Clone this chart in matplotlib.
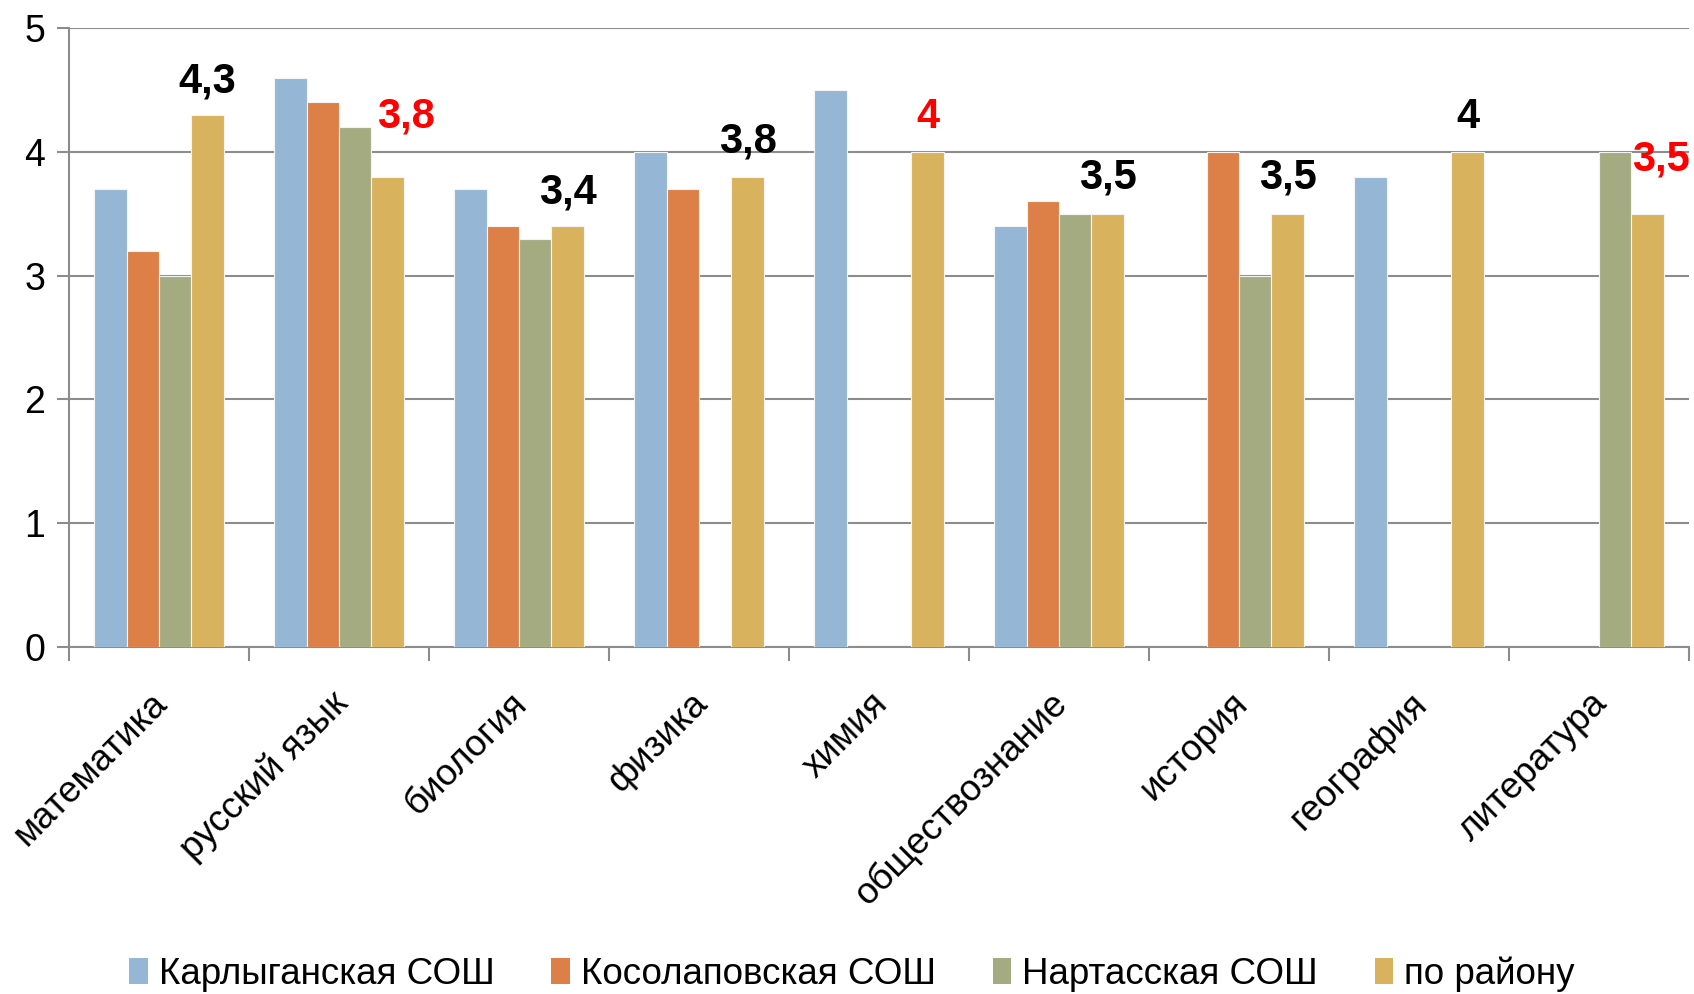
import numpy as np
import matplotlib.pyplot as plt
import matplotlib.transforms as mtransforms
from matplotlib.patches import Rectangle

plt.rcParams['font.family'] = ['Liberation Sans', 'DejaVu Sans']

subjects = ['математика', 'русский язык', 'биология', 'физика', 'химия',
            'обществознание', 'история', 'география', 'литература']
series_names = ['Карлыганская СОШ', 'Косолаповская СОШ', 'Нартасская СОШ', 'по району']
karl = [3.7, 4.6, 3.7, 4.0, 4.5, 3.4, np.nan, 3.8, np.nan]
kosol = [3.2, 4.4, 3.4, 3.7, np.nan, 3.6, 4.0, np.nan, np.nan]
nart = [3.0, 4.2, 3.3, np.nan, np.nan, 3.5, 3.0, np.nan, 4.0]
rayon = [4.3, 3.8, 3.4, 3.8, 4.0, 3.5, 3.5, 4.0, 3.5]
rayon_labels = ['4,3', '3,8', '3,4', '3,8', '4', '3,5', '3,5', '4', '3,5']
label_red = [False, True, False, False, True, False, False, False, True]

colors = ['#95B6D4', '#DD8048', '#A5AB80', '#D8B25D']
# label offsets in pixels (dx, dy) from top of the "по району" bar
label_offsets = [(0, 33), (18, 60), (0, 34), (0, 35), (0, 35),
                 (0, 36), (0, 36), (0, 35), (13, 54)]

fig = plt.figure(figsize=(16.94, 9.94), dpi=100)
ax = fig.add_axes([0.0407, 0.349, 0.9563, 0.6228])

x = np.arange(len(subjects))
w = 0.18
for i, vals in enumerate([karl, kosol, nart, rayon]):
    ax.bar(x + (i - 1.5) * w, vals, width=w, color=colors[i],
           edgecolor='#F4F4F4', linewidth=0.8, zorder=3)

for i, v in enumerate(rayon):
    dx, dy = label_offsets[i]
    ax.annotate(rayon_labels[i], (x[i] + 1.5 * w, v), xytext=(dx, dy),
                textcoords='offset pixels', ha='center', va='center',
                fontsize=30, fontweight='bold',
                color='#FF0000' if label_red[i] else 'black',
                annotation_clip=False, zorder=5)

ax.set_xlim(-0.5, len(subjects) - 0.5)
ax.set_ylim(0, 5)
ax.set_yticks(range(6))
ax.tick_params(axis='y', labelsize=27, length=9, width=1.5, color='#8C8C8C', pad=8)
ax.yaxis.grid(True, color='#8C8C8C', linewidth=1.5, zorder=0)
ax.set_axisbelow(True)

ax.set_xticks(x)
ax.set_xticklabels(subjects, rotation=45, ha='right', va='top',
                   rotation_mode='anchor', fontsize=26.5)
ax.tick_params(axis='x', length=0, pad=28)
shift = mtransforms.ScaledTranslation(-9 / 100, 0, fig.dpi_scale_trans)
for lbl in ax.get_xticklabels():
    lbl.set_transform(lbl.get_transform() + shift)
ax.set_xticks(np.arange(len(subjects) + 1) - 0.5, minor=True)
ax.tick_params(axis='x', which='minor', length=10, width=1.5, color='#8C8C8C')

for s in ['top', 'right']:
    ax.spines[s].set_visible(False)
for s in ['left', 'bottom']:
    ax.spines[s].set_color('#8C8C8C')
    ax.spines[s].set_linewidth(1.5)

handles = [Rectangle((0, 0), 1, 1, facecolor=c) for c in colors]
fig.legend(handles, series_names, loc='center', bbox_to_anchor=(0.503, 0.02),
           ncol=4, frameon=False, fontsize=26.5, handlelength=0.5, handleheight=0.7,
           handletextpad=0.3, columnspacing=1.55)

fig.savefig('out.png', dpi=100)
